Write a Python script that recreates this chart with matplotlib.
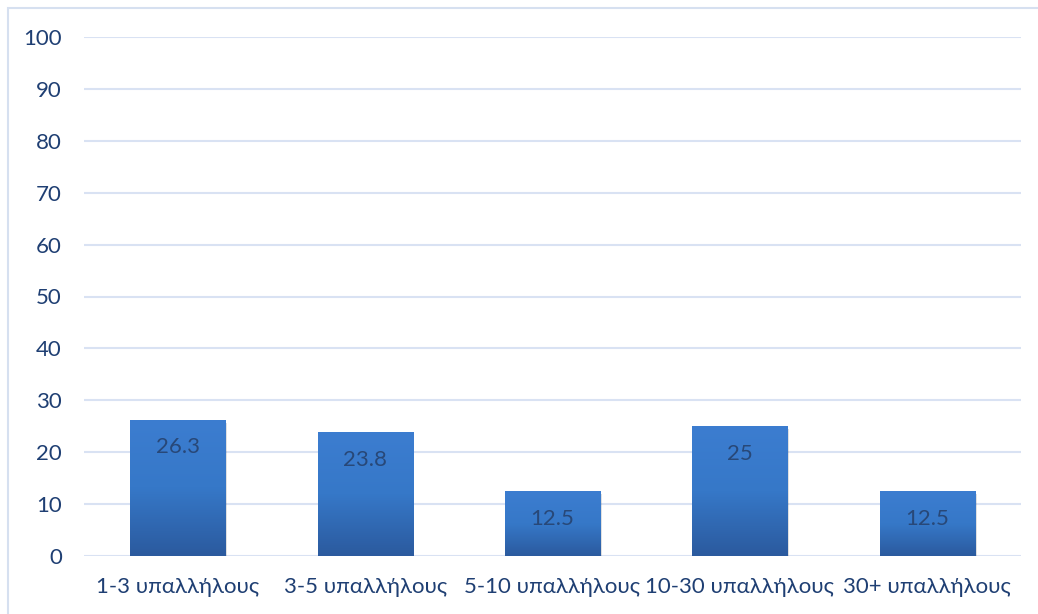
import matplotlib.pyplot as plt
import numpy as np
from matplotlib.colors import LinearSegmentedColormap
from matplotlib.patches import Rectangle

categories = ['1-3 υπαλλήλους', '3-5 υπαλλήλους', '5-10 υπαλλήλους', '10-30 υπαλλήλους', '30+ υπαλλήλους']
values = [26.3, 23.8, 12.5, 25, 12.5]
yticks = list(range(0, 101, 10))

plt.rcParams['font.family'] = ['Lato', 'DejaVu Sans']

fig = plt.figure(figsize=(10.38, 6.14), dpi=100)
ax = fig.add_axes([84 / 1038, 58 / 614, 937 / 1038, 519 / 614])

# outer frame (only top and left edges show)
fig.patches.append(Rectangle((8 / 1038, -0.1), 1.2, 1.1 - 8 / 614,
                             transform=fig.transFigure, fill=False,
                             edgecolor='#D6E0F0', linewidth=1.5))

ax.set_xlim(-0.5, len(categories) - 0.5)
ax.set_ylim(0, 100)
ax.set_yticks(yticks)
ax.set_xticks(range(len(categories)))
ax.set_xticklabels(categories)
ax.tick_params(length=0, labelsize=16, colors='#1F3F73')
ax.tick_params(axis='y', pad=16)
ax.tick_params(axis='x', pad=15)
for s in ax.spines.values():
    s.set_visible(False)
ax.grid(axis='y', color='#D9E2F3', linewidth=1.5)
ax.set_axisbelow(True)

cmap = LinearSegmentedColormap.from_list('bar', ['#2B5A9E', '#3678C8', '#3C7DD0'])
grad = np.linspace(0, 1, 256).reshape(-1, 1)
width = 0.507
for i, v in enumerate(values):
    # soft shadow under each bar
    ax.add_patch(Rectangle((i - width / 2 + 0.01, -0.6), width, v, facecolor='#000000',
                           alpha=0.12, linewidth=0, zorder=2))
    bar = Rectangle((i - width / 2, 0), width, v, facecolor='none', linewidth=0, zorder=3)
    ax.add_patch(bar)
    im = ax.imshow(grad, extent=(i - width / 2, i + width / 2, 0, v), origin='lower',
                   cmap=cmap, aspect='auto', zorder=3)
    im.set_clip_path(bar)
    ax.text(i, v - 5.3, f'{v:g}', ha='center', va='center', fontsize=16,
            color='#284878', zorder=4)

ax.set_xlim(-0.5, len(categories) - 0.5)
ax.set_ylim(0, 100)

fig.savefig('out.png', dpi=100)
